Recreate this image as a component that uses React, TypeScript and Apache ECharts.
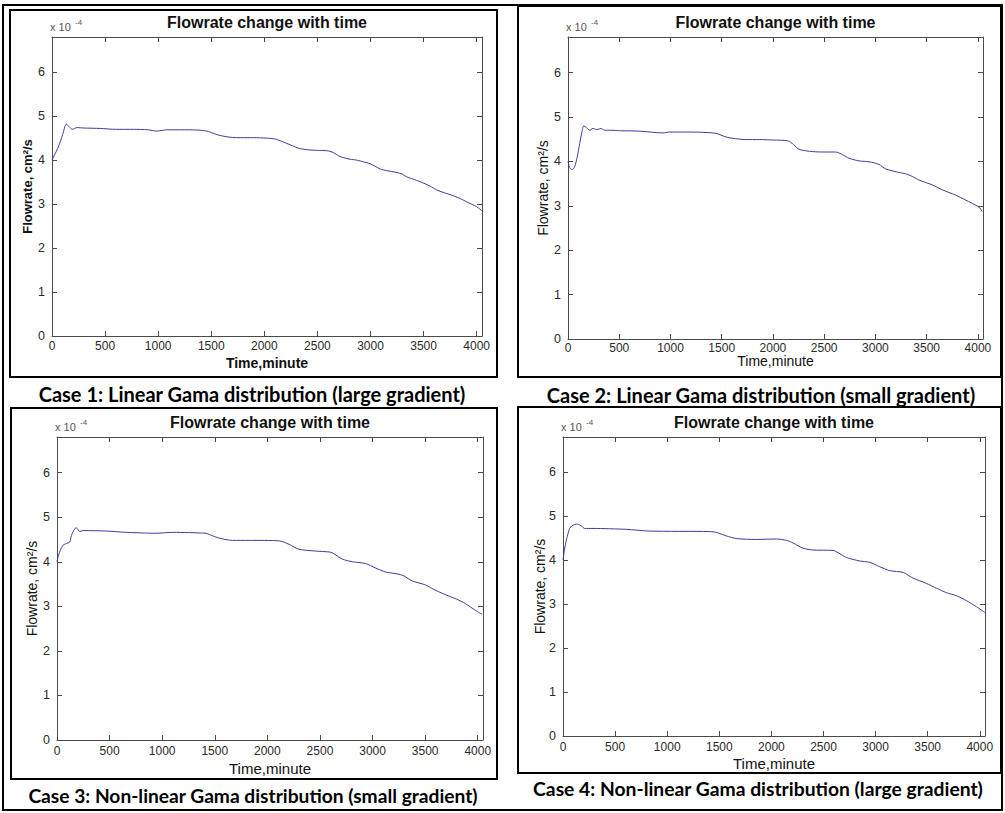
import React, { useEffect, useRef } from "react";
import * as echarts from "echarts";

// ---------- data (flow in units of 1e-4 cm^2/s, time in minutes) ----------
const xTickValues = [0, 500, 1000, 1500, 2000, 2500, 3000, 3500, 4000];
const yTickValues = [0, 1, 2, 3, 4, 5, 6];

const case1Time = [0, 20, 60, 100, 135, 165, 190, 235, 300, 455, 600, 769, 900, 988, 1082, 1250, 1396, 1475, 1530, 1584, 1678, 1773, 1900, 2024, 2102, 2160, 2212, 2280, 2337, 2431, 2520, 2604, 2651, 2714, 2808, 2870, 2933, 2996, 3090, 3153, 3247, 3300, 3341, 3400, 3467, 3561, 3624, 3718, 3780, 3850, 3906, 4000, 4047];
const case1Flow = [4.0, 4.1, 4.3, 4.58, 4.82, 4.75, 4.7, 4.74, 4.73, 4.72, 4.7, 4.7, 4.69, 4.66, 4.69, 4.69, 4.68, 4.65, 4.6, 4.56, 4.52, 4.51, 4.51, 4.5, 4.48, 4.43, 4.38, 4.31, 4.26, 4.23, 4.22, 4.21, 4.17, 4.08, 4.02, 4.0, 3.96, 3.92, 3.8, 3.76, 3.72, 3.68, 3.62, 3.57, 3.51, 3.41, 3.32, 3.24, 3.19, 3.12, 3.05, 2.94, 2.85];

const case2Time = [0, 15, 33, 45, 65, 90, 114, 135, 153, 180, 211, 243, 270, 292, 325, 357, 420, 503, 700, 925, 990, 1200, 1347, 1444, 1541, 1606, 1736, 1866, 2000, 2150, 2200, 2256, 2386, 2500, 2613, 2680, 2743, 2841, 2938, 3036, 3100, 3231, 3295, 3360, 3425, 3555, 3653, 3782, 3880, 4010, 4042];
const case2Flow = [4.0, 3.86, 3.82, 3.82, 3.88, 4.1, 4.4, 4.65, 4.8, 4.76, 4.7, 4.74, 4.72, 4.72, 4.74, 4.7, 4.7, 4.69, 4.68, 4.64, 4.66, 4.66, 4.65, 4.63, 4.55, 4.52, 4.49, 4.49, 4.48, 4.46, 4.38, 4.27, 4.22, 4.21, 4.21, 4.15, 4.07, 4.01, 3.99, 3.93, 3.83, 3.75, 3.72, 3.66, 3.58, 3.47, 3.36, 3.24, 3.13, 2.97, 2.87];

const case3Time = [0, 15, 32, 57, 89, 120, 137, 168, 185, 215, 247, 468, 658, 943, 1101, 1417, 1449, 1544, 1670, 1828, 2112, 2207, 2302, 2460, 2587, 2618, 2713, 2808, 2934, 3029, 3124, 3251, 3300, 3377, 3503, 3598, 3725, 3800, 3883, 3978, 4041];
const case3Flow = [4.0, 4.15, 4.26, 4.37, 4.41, 4.44, 4.59, 4.74, 4.76, 4.68, 4.7, 4.69, 4.66, 4.64, 4.66, 4.64, 4.61, 4.53, 4.48, 4.48, 4.47, 4.39, 4.28, 4.24, 4.22, 4.2, 4.06, 4.0, 3.96, 3.86, 3.77, 3.72, 3.68, 3.57, 3.48, 3.36, 3.23, 3.16, 3.06, 2.91, 2.82];

const case4Time = [0, 15, 32, 50, 64, 85, 112, 140, 160, 185, 208, 288, 608, 832, 1408, 1472, 1568, 1664, 1856, 2048, 2144, 2208, 2304, 2400, 2592, 2640, 2720, 2848, 2944, 3040, 3136, 3264, 3360, 3488, 3584, 3680, 3776, 3872, 3968, 4048];
const case4Flow = [4.0, 4.25, 4.45, 4.62, 4.72, 4.78, 4.81, 4.82, 4.8, 4.76, 4.72, 4.72, 4.7, 4.66, 4.65, 4.63, 4.55, 4.49, 4.47, 4.48, 4.45, 4.39, 4.27, 4.23, 4.22, 4.17, 4.06, 3.98, 3.95, 3.85, 3.76, 3.72, 3.59, 3.47, 3.36, 3.26, 3.19, 3.08, 2.94, 2.81];

const chartTitle = "Flowrate change with time";
const xAxisTitle = "Time,minute";
const yAxisTitle = "Flowrate, cm²/s";
const captions = [
  "Case 1: Linear Gama distribution (large gradient)",
  "Case 2: Linear Gama distribution (small gradient)",
  "Case 3: Non-linear Gama distribution (small gradient)",
  "Case 4: Non-linear Gama distribution (large gradient)",
];
const seriesTimes = [case1Time, case2Time, case3Time, case4Time];
const seriesFlows = [case1Flow, case2Flow, case3Flow, case4Flow];

const X_MAX = 4050;
const Y_MAX = 6.8;

// ---------- layout ----------
const layouts = [
  { l: 52, t: 37, r: 482, b: 336, box: [10, 10, 497, 377], yLabX: 27, xLabY: 363, bold: true, yLabSize: 13, xLabSize: 14, tickMargin: 4, capX: 252, capY: 394, capSize: 20 },
  { l: 568, t: 37, r: 983, b: 339, box: [518, 6, 1001, 377], yLabX: 543, xLabY: 361, bold: false, yLabSize: 14, xLabSize: 14, tickMargin: 3, capX: 761, capY: 394.5, capSize: 20 },
  { l: 57, t: 437, r: 483, b: 740, box: [11, 408, 497, 779], yLabX: 32, xLabY: 768, bold: false, yLabSize: 14, xLabSize: 15, tickMargin: 5, capX: 253, capY: 795.5, capSize: 19.2 },
  { l: 563, t: 437, r: 985, b: 736, box: [518, 407, 1001, 773], yLabX: 540, xLabY: 763, bold: false, yLabSize: 14, xLabSize: 15, tickMargin: 5, capX: 758, capY: 788, capSize: 19.3 },
];

const AXIS_COLOR = "#4a4a4a";
const LABEL_COLOR = "#2a2a2a";
const LINE_COLOR = "#3c3c9c";
const FONT = "Liberation Sans, Arial, sans-serif";

function buildOption() {
  const grids: any[] = [];
  const xAxes: any[] = [];
  const yAxes: any[] = [];
  const series: any[] = [];
  const graphics: any[] = [];

  graphics.push({
    type: "rect",
    silent: true,
    shape: { x: 3, y: 5, width: 999, height: 805 },
    style: { fill: "none", stroke: "#000", lineWidth: 2 },
  });

  layouts.forEach((p, i) => {
    grids.push({ left: p.l, top: p.t, width: p.r - p.l, height: p.b - p.t, containLabel: false });
    const tick = { show: true, inside: true, length: 5, lineStyle: { color: AXIS_COLOR, width: 1 } };
    const line = { show: true, onZero: false, lineStyle: { color: AXIS_COLOR, width: 1 } };
    const baseX = { type: "value", gridIndex: i, min: 0, max: X_MAX, interval: 500, splitLine: { show: false }, axisLine: line, axisTick: tick };
    const baseY = { type: "value", gridIndex: i, min: 0, max: Y_MAX, interval: 1, splitLine: { show: false }, axisLine: line, axisTick: tick };
    xAxes.push({
      ...baseX,
      position: "bottom",
      axisLabel: {
        show: true,
        margin: p.tickMargin,
        color: LABEL_COLOR,
        fontFamily: FONT,
        fontSize: 12,
        formatter: (v: number) => (xTickValues.indexOf(v) >= 0 ? String(v) : ""),
      },
    });
    xAxes.push({ ...baseX, position: "top", axisLabel: { show: false } });
    yAxes.push({
      ...baseY,
      position: "left",
      axisLabel: {
        show: true,
        margin: 7,
        color: LABEL_COLOR,
        fontFamily: FONT,
        fontSize: 12.5,
        formatter: (v: number) => (yTickValues.indexOf(v) >= 0 ? String(v) : ""),
      },
    });
    yAxes.push({ ...baseY, position: "right", axisLabel: { show: false } });

    const t = seriesTimes[i];
    const f = seriesFlows[i];
    series.push({
      type: "line",
      xAxisIndex: 2 * i,
      yAxisIndex: 2 * i,
      showSymbol: false,
      symbol: "none",
      smooth: 0.25,
      lineStyle: { color: LINE_COLOR, width: 1 },
      data: t.map((x, k) => [x, f[k]]),
    });

    const [bx0, by0, bx1, by1] = p.box;
    graphics.push({
      type: "rect",
      silent: true,
      shape: { x: bx0, y: by0, width: bx1 - bx0, height: by1 - by0 },
      style: { fill: "none", stroke: "#000", lineWidth: 2 },
    });
    const cx = (p.l + p.r) / 2;
    const cy = (p.t + p.b) / 2;
    graphics.push({
      type: "text",
      silent: true,
      x: cx,
      y: p.t - 15,
      style: { text: chartTitle, fill: "#111", fontFamily: FONT, fontSize: 16, fontWeight: "bold", align: "center", verticalAlign: "middle" },
    });
    graphics.push({
      type: "text",
      silent: true,
      x: p.l - 2,
      y: p.t - 10,
      style: { text: "x 10", fill: "#555", fontFamily: FONT, fontSize: 11, align: "left", verticalAlign: "middle" },
    });
    graphics.push({
      type: "text",
      silent: true,
      x: p.l + 23,
      y: p.t - 15,
      style: { text: "-4", fill: "#555", fontFamily: FONT, fontSize: 8, align: "left", verticalAlign: "middle" },
    });
    graphics.push({
      type: "text",
      silent: true,
      x: p.yLabX,
      y: cy,
      rotation: Math.PI / 2,
      style: { text: yAxisTitle, fill: "#111", fontFamily: FONT, fontSize: p.yLabSize, fontWeight: p.bold ? "bold" : "normal", align: "center", verticalAlign: "middle" },
    });
    graphics.push({
      type: "text",
      silent: true,
      x: cx,
      y: p.xLabY,
      style: { text: xAxisTitle, fill: "#111", fontFamily: FONT, fontSize: p.xLabSize, fontWeight: p.bold ? "bold" : "normal", align: "center", verticalAlign: "middle" },
    });
    graphics.push({
      type: "text",
      silent: true,
      x: p.capX,
      y: p.capY,
      style: { text: captions[i], fill: "#000", fontFamily: "Lato, Open Sans, sans-serif", fontSize: p.capSize, fontWeight: "bold", align: "center", verticalAlign: "middle" },
    });
  });

  return {
    animation: false,
    backgroundColor: "#ffffff",
    grid: grids,
    xAxis: xAxes,
    yAxis: yAxes,
    series,
    graphic: { elements: graphics },
  };
}

export default function App() {
  const ref = useRef<HTMLDivElement>(null);
  useEffect(() => {
    if (!ref.current) return;
    const chart = echarts.init(ref.current, undefined, { renderer: "svg" });
    chart.setOption(buildOption() as any);
    return () => chart.dispose();
  }, []);
  return (
    <div
      ref={ref}
      style={{ position: "absolute", left: 0, top: 0, width: 1005, height: 813, background: "#fff" }}
    />
  );
}
